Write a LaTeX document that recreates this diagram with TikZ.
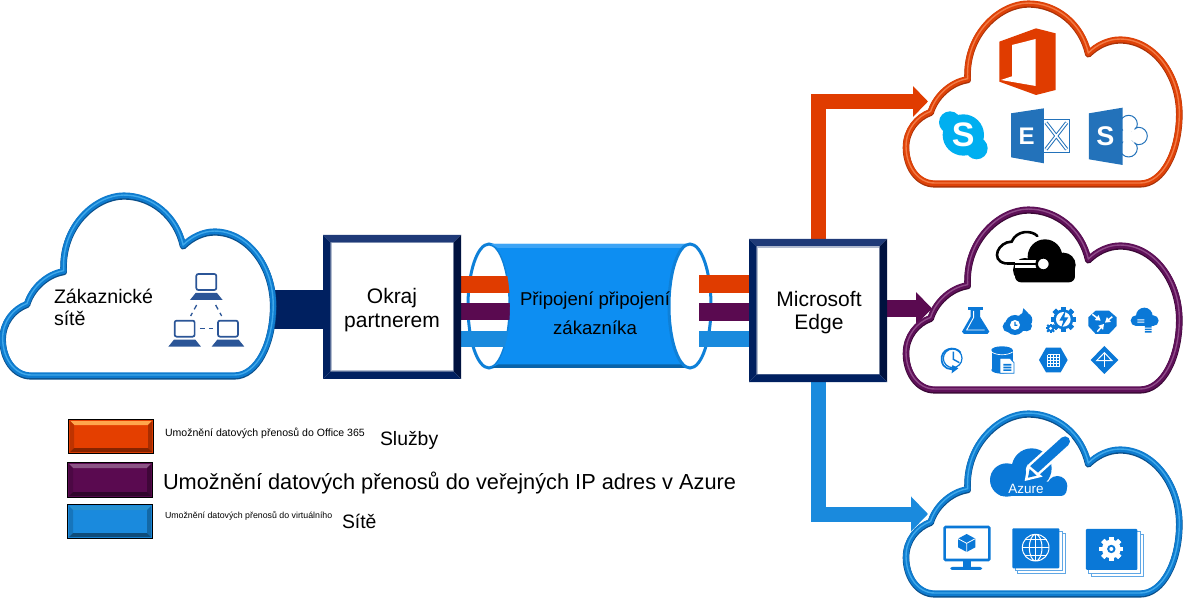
\documentclass[tikz,border=0pt]{standalone}
\usepackage{fontspec}
\setmainfont{Liberation Sans}
\usetikzlibrary{arrows.meta,calc}
\definecolor{navy}{HTML}{002060}
\definecolor{navyL}{HTML}{1F3A78}
\definecolor{navyD}{HTML}{00123F}
\definecolor{orangeC}{HTML}{E03C00}
\definecolor{purpleC}{HTML}{5A0A50}
\definecolor{blueC}{HTML}{1A8ADD}
\definecolor{tube}{HTML}{0D8EF2}
\definecolor{tubeE}{HTML}{0E80D8}
\definecolor{icon}{HTML}{0A78D7}
\definecolor{msblue}{HTML}{2372BA}
\definecolor{skype}{HTML}{00AFF0}
\definecolor{pc}{HTML}{2B5597}
\definecolor{cloudB}{HTML}{0F7CCF}
\definecolor{cloudBd}{HTML}{0A4F8A}
\definecolor{cloudBl}{HTML}{3FA8EA}
\definecolor{cloudO}{HTML}{DE4208}
\definecolor{cloudOd}{HTML}{A83208}
\definecolor{cloudOl}{HTML}{F27A45}
\definecolor{cloudP}{HTML}{5E1058}
\definecolor{cloudPd}{HTML}{3A0835}
\definecolor{cloudPl}{HTML}{8E4A88}
\newcommand\px[1]{\fontsize{#1pt}{#1pt}\selectfont}
\newcommand\cloudpath{(105,550) .. controls (50,550) and (18,495) .. (18,440)
 .. controls (18,390) and (50,350) .. (92,335)
 .. controls (105,290) and (150,245) .. (203,237)
 .. controls (195,100) and (300,10) .. (385,10)
 .. controls (470,10) and (545,70) .. (565,160)
 .. controls (590,135) and (625,118) .. (660,118)
 .. controls (760,118) and (838,220) .. (838,340)
 .. controls (838,450) and (790,550) .. (720,550) -- cycle}
% ox oy base dark light xscale
\newcommand\cloudat[6]{\begin{scope}[shift={(#1,#2)},x=#6*0.3333pt,y=-0.3333pt,line join=round]
 \draw[#4,fill=white,line width=6.6pt,yshift=-1pt] \cloudpath;
 \draw[#3,line width=5.8pt] \cloudpath;
 \draw[#5,line width=1.4pt,yshift=0.3pt] \cloudpath;
\end{scope}}
% x1 y1 x2 y2 t top left right bottom
\newcommand\bevel[9]{%
 \fill[#6] (#1,#2)--(#3,#2)--({#3-#5},{#2+#5})--({#1+#5},{#2+#5})--cycle;
 \fill[#7] (#1,#2)--(#1,#4)--({#1+#5},{#4-#5})--({#1+#5},{#2+#5})--cycle;
 \fill[#8] (#3,#2)--(#3,#4)--({#3-#5},{#4-#5})--({#3-#5},{#2+#5})--cycle;
 \fill[#9] (#1,#4)--(#3,#4)--({#3-#5},{#4-#5})--({#1+#5},{#4-#5})--cycle;}
% computer: screen centre x, screen top y
\newcommand\computer[2]{%
 \draw[pc,line width=1.7pt,rounded corners=2pt] ({#1-30},{#2+2}) rectangle ({#1+30},{#2+50});
 \fill[pc] ({#1-32},{#2+59})--({#1+32},{#2+59})--({#1+49},{#2+80})--({#1-49},{#2+80})--cycle;}
% gear: cx cy R colour hole
\newcommand\gearicon[5]{%
 \fill[#4] (#1,#2) circle (#3);
 \foreach \a in {0,45,...,315}{\fill[#4,rotate around={\a:(#1,#2)}] ({#1-#3*.24},{#2-#3*1.28}) rectangle ({#1+#3*.24},{#2+#3*1.28});}
 \fill[#5] (#1,#2) circle ({#3*.45});}
\tikzset{
 lbl/.style={inner sep=0pt,outer sep=0pt,align=center,text=black},
 boxn/.style={inner sep=0pt,outer sep=0pt,align=center},
 wlogo/.style={inner sep=0pt,text=white,font=\bfseries},
 routeO/.style={orangeC,line width=15pt,-{Triangle[length=15pt,width=30pt]}},
 routeP/.style={purpleC,line width=17pt,-{Triangle[length=16pt,width=32pt]}},
 routeB/.style={blueC,line width=15pt,-{Triangle[length=17pt,width=34pt]}},
}
\begin{document}
\begin{tikzpicture}[x=1pt,y=-1pt]
\useasboundingbox (0,0) rectangle (1183,601);
\fill[white] (0,0) rectangle (1183,601);

\path (392,307) node[boxn,minimum width=138pt,minimum height=144pt] (partnerF) {};
\path (818,310.5) node[boxn,minimum width=138pt,minimum height=143pt] (edgeF) {};
\coordinate (custR) at (270,309.5);
\coordinate (cloudOe) at (928,101.5);
\coordinate (cloudPe) at (932,308.5);
\coordinate (cloudBe) at (928,514);

% connectors to the clouds
\draw[navy,line width=39pt] (custR) -- (custR -| partnerF.west);
\draw[routeO] (edgeF.north -| 818.5,0) |- (cloudOe);
\draw[routeB] (edgeF.south -| 818,0) |- (cloudBe);
\draw[routeP] (edgeF.east |- cloudPe) -- (cloudPe);

% cylinder
\draw[tubeE,line width=3pt,fill=white] (489,306) ellipse [x radius=21pt,y radius=62pt];
\draw[orangeC,line width=17.5pt] (partnerF.east |- 0,284.5) -- (518,284.5);
\draw[purpleC,line width=17.5pt] (partnerF.east |- 0,311.5) -- (518,311.5);
\draw[blueC,line width=16pt] (partnerF.east |- 0,339) -- (518,339);
\fill[tube] (489,244) -- (690,244) .. controls (678.4,244) and (669,271.8) .. (669,306) .. controls (669,340.2) and (678.4,368) .. (690,368) -- (489,368) .. controls (500.6,368) and (510,340.2) .. (510,306) .. controls (510,271.8) and (500.6,244) .. (489,244) -- cycle;
\fill[tube!80!white] (491,244) -- (688,244) -- (684,248) -- (498,248) -- cycle;
\fill[tube!70!black] (498,364.5) -- (684,364.5) -- (690,368) -- (491,368) -- cycle;
\draw[tubeE,line width=3pt,fill=white] (690,306) ellipse [x radius=21pt,y radius=62pt];
\draw[orangeC,line width=18pt] (699,284) -- (edgeF.west |- 0,284);
\draw[purpleC,line width=18pt] (699,312) -- (edgeF.west |- 0,312);
\draw[blueC,line width=16pt] (699,339) -- (edgeF.west |- 0,339);
\node[lbl] (cyl) at (595,313.5) {\px{18.6}Připojení připojení\\[10.5pt]\px{18.6}zákazníka};

% partner and edge boxes
\fill[white] (331,242) rectangle (453,371);
\draw[white!70!navy,line width=1pt] (331.5,242.5) rectangle (453,371);
\bevel{323}{235}{461}{379}{7.5}{navyL}{navy}{navyD}{navy}
\node[lbl] (partner) at (392,310.5) {\px{21}Okraj\\[5pt]\px{21}partnerem};
\fill[white] (757,247) rectangle (879,375);
\draw[white!70!navy,line width=1pt] (757.5,247.5) rectangle (879,375);
\bevel{749}{239}{887}{382}{7.5}{navyL}{navy}{navyD}{navy}
\node[lbl] (edge) at (819,312.5) {\px{21}Microsoft\\[7pt]\px{21}Edge};

% clouds
\cloudat{-3.3}{192}{cloudB}{cloudBd}{cloudBl}{0.99}
\cloudat{900}{0}{cloudO}{cloudOd}{cloudOl}{1}
\cloudat{900}{206}{cloudP}{cloudPd}{cloudPl}{1}
\cloudat{900}{410}{cloudB}{cloudBd}{cloudBl}{1}

% customer cloud contents
\node[lbl,align=left,anchor=north west] (cust) at (54,289.5) {\px{19.6}Zákaznické\\[6pt]\px{19.6}sítě};
\begin{scope}[shift={(0,190)},x=0.3333pt,y=-0.3333pt]
 \computer{619}{250}
 \computer{554}{390}
 \computer{684}{390}
 \coordinate (pa) at (590,345); \coordinate (pb) at (572,378);
 \coordinate (pc1) at (647,345); \coordinate (pd) at (665,378);
 \coordinate (pe) at (600,415); \coordinate (pf) at (640,415);
 \draw[pc,line width=1.3pt,dash pattern=on 5pt off 4pt] (pa) -- (pb);
 \draw[pc,line width=1.3pt,dash pattern=on 5pt off 4pt] (pc1) -- (pd);
 \draw[pc,line width=1.3pt,dash pattern=on 5pt off 4pt] (pe) -- (pf);
\end{scope}

% office cloud icons
\begin{scope}[shift={(900,0)},x=0.3333pt,y=-0.3333pt]
 \fill[orangeC] (298,125)--(408,85)--(467,100)--(467,270)--(408,285)--(298,245)--cycle;
 \fill[white] (336,135)--(407,117)--(407,258)--(303,240)--(336,229)--cycle;
 % skype
 \fill[skype] (190,405) circle (62) (150,367) circle (33) (230,445) circle (33);
 \node[wlogo] (sk) at (190,405) {\px{34}S};
 % exchange
 \draw[msblue,line width=0.9pt,fill=white] (425,358) rectangle (508,458);
 \draw[msblue,line width=3.6pt] (438,368)--(500,448) (438,448)--(500,368);
 \draw[white,line width=1.6pt] (438,368)--(500,448) (438,448)--(500,368);
 \fill[msblue] (333,340)--(432,325)--(432,490)--(333,472)--cycle;
 \node[wlogo] (ex) at (380,410) {\px{24}E};
 % sharepoint
 \draw[msblue,line width=1pt,fill=white] (686,372) circle (26) (716,408) circle (26) (686,445) circle (26);
 \fill[white] (686,375) circle (21) (712,408) circle (21) (686,442) circle (21) (680,408) circle (20);
 \fill[msblue] (567,340)--(668,323)--(668,495)--(567,478)--cycle;
 \node[wlogo] (sp) at (616,410) {\px{27}S};
\end{scope}

% public cloud icons
\begin{scope}[shift={(900,200)},x=0.3333pt,y=-0.3333pt]
 \fill[black] (435,170) circle (52) (490,195) circle (37) (375,210) circle (36);
 \fill[black,rounded corners=6pt] (345,190) rectangle (525,247);
 \draw[black,line width=2.6pt,line cap=round] (412,108) .. controls (395,90) and (350,90) .. (335,125) .. controls (295,125) and (270,180) .. (315,190) -- (440,192);
 \draw[white,line width=7.5pt] (345,192) -- (425,192);
 \draw[black,line width=2.6pt] (320,192) -- (425,192);
 \draw[black,line width=2.6pt,fill=white] (430,192) circle (20);
 % flask
 \fill[icon] (205,320) rectangle (248,330);
 \fill[icon] (212,330)--(240,330)--(240,350)--(268,395)--(262,402)--(192,402)--(186,395)--(212,350)--cycle;
 \draw[white,line width=0.9pt] (221,333)--(221,352)--(200,390)--(254,390);
 % cloud clock
 \fill[icon] (345,375) circle (30) (325,380) circle (17) (375,360) circle (22) (380,378) circle (16);
 \fill[icon] (320,378) rectangle (385,394);
 \fill[white] (345,375) circle (15);
 \fill[icon] (343,366) rectangle (347,378) (343,374) rectangle (352,378);
 \draw[white,line width=1pt] (352,345) -- (370,335);
 \fill[icon] (370,325)--(385,340)--(366,345)--cycle;
 % gear bolt
 \gearicon{490}{358}{30}{icon}{white}
 \fill[white] (490,358) circle (22);
 \fill[icon] (497,330)--(478,362)--(490,362)--(482,388)--(505,352)--(493,352)--cycle;
 \gearicon{452}{385}{11}{icon}{white}
 % octagon
 \fill[icon] (587,332)--(627,332)--(650,352)--(650,378)--(627,402)--(587,402)--(565,378)--(565,352)--cycle;
 \draw[white,line width=1.5pt,-{Triangle[length=5pt,width=6pt]}] (577,343)--(602,362);
 \draw[white,line width=1.5pt,-{Triangle[length=5pt,width=6pt]}] (637,350)--(615,368);
 \draw[white,line width=1.5pt,-{Triangle[length=5pt,width=6pt]}] (592,395)--(612,372);
 % stripe cloud
 \fill[icon] (733,348) circle (25) (708,362) circle (16) (760,362) circle (16);
 \fill[icon] (708,356) rectangle (760,378);
 \fill[icon] (735,378) rectangle (755,383) (735,386) rectangle (755,390) (735,393) rectangle (755,398);
 \fill[white] (712,358) rectangle (733,361) (712,365) rectangle (733,368);
 % clock cycle
 \draw[icon,line width=1.7pt] (182,458) .. controls (165,435) and (120,445) .. (125,482) .. controls (128,505) and (150,512) .. (168,505);
 \fill[icon] (157,495)--(175,505)--(155,520)--cycle;
 \draw[icon,line width=1.2pt] (158,475) circle (28);
 \draw[icon,line width=1.4pt] (160,455)--(160,478)--(178,488);
 % db
 \fill[icon] (275,450) rectangle (338,510);
 \fill[icon] (306,450) ellipse [x radius=32,y radius=11];
 \fill[icon] (306,510) ellipse [x radius=32,y radius=11];
 \draw[white,line width=0.7pt] (275,456) .. controls (290,467) and (322,467) .. (338,456);
 \draw[icon,line width=.8pt,fill=white] (300,475)--(330,475)--(342,488)--(342,520)--(300,520)--cycle;
 \fill[icon] (310,492) rectangle (334,497) (310,500) rectangle (334,505) (310,508) rectangle (334,513);
 % hexagon
 \fill[icon] (417,480)--(438,443)--(482,443)--(503,480)--(482,517)--(438,517)--cycle;
 \foreach \gx in {443,452,461,470,479}{\draw[white,line width=.7pt] (\gx,464) -- (\gx,500);}
 \foreach \gy in {464,473,482,491,500}{\draw[white,line width=.7pt] (443,\gy) -- (479,\gy);}
 % diamond
 \fill[icon] (613,438)--(655,480)--(613,522)--(572,480)--cycle;
 \draw[white,line width=1pt] (613,458)--(590,482)--(636,482)--cycle;
 \draw[white,line width=1pt] (613,458)--(613,500);
\end{scope}

% virtual network cloud icons
\begin{scope}[shift={(900,400)},x=0.3333pt,y=-0.3333pt]
 \fill[icon] (320,240) circle (50) (395,205) circle (60) (472,258) circle (30);
 \fill[icon,rounded corners=6pt] (290,245) rectangle (500,288);
 \draw[white,line width=15pt,line cap=round] (400,210) -- (495,124);
 \draw[icon,line width=10pt,line cap=round] (400,210) -- (495,124);
 \fill[white] (374,243)--(383,193)--(428,230)--cycle;
 \fill[icon] (384,233)--(389,207)--(410,227)--cycle;
 \node[inner sep=0pt,text=white] (azure) at (378,268) {\px{13.5}Azure};
 % monitor
 \draw[icon,line width=2.6pt,rounded corners=1pt] (134,381) rectangle (268,480);
 \fill[icon] (188,482) rectangle (212,502);
 \fill[icon,rounded corners=2pt] (151,501) rectangle (246,510);
 \fill[icon] (200,402)--(226,416)--(226,442)--(200,456)--(174,442)--(174,416)--cycle;
 \draw[white,line width=.8pt,line join=round] (174,416)--(200,430)--(226,416) (200,430)--(200,456);
 % globe stack
 \draw[icon!65!white,line width=.8pt,fill=white] (353,401) rectangle (496,520);
 \draw[icon!65!white,line width=.8pt,fill=white] (345,393) rectangle (488,512);
 \fill[icon,rounded corners=1pt] (337,385) rectangle (478,505);
 \draw[white,line width=1pt] (407,443) circle (40) (407,443) ellipse [x radius=19,y radius=40];
 \draw[white,line width=1pt] (407,403)--(407,483) (367,443)--(447,443) (374,420)--(440,420) (374,466)--(440,466);
 % gear stack
 \draw[icon!65!white,line width=.8pt,fill=white] (574,403) rectangle (730,528);
 \draw[icon!65!white,line width=.8pt,fill=white] (566,395) rectangle (722,520);
 \fill[icon,rounded corners=1pt] (558,387) rectangle (712,510);
 \gearicon{634}{447}{28}{white}{icon}
 \fill[white] (634,447) circle (6);
\end{scope}

% legend
\fill[orange!10!orangeC!95!red] (68,419) rectangle (154,454);
\bevel{70}{421}{152}{452}{4}{orange!70!white}{orangeC!85!black}{orangeC!75!black}{orangeC!60!black}
\draw[black,line width=1pt] (68.5,419.5) rectangle (153.5,453.5);
\fill[purpleC] (67,462) rectangle (153,498);
\bevel{69}{464}{151}{496}{4}{purpleC!70!white}{purpleC!85!black}{purpleC!70!black}{purpleC!55!black}
\draw[black,line width=1pt] (67.5,462.5) rectangle (152.5,497.5);
\fill[blueC] (67,504) rectangle (153,539);
\bevel{69}{506}{151}{537}{4}{cyan!40!blueC}{blueC!85!black}{blueC!75!black}{blueC!55!black}
\draw[black,line width=1pt] (67.5,504.5) rectangle (152.5,538.5);
\node[lbl,anchor=west] (l1) at (165,433.5) {\px{10.55}Umožnění datových přenosů do Office 365};
\node[lbl,anchor=west] (l1b) at (380,440) {\px{19.4}Služby};
\node[lbl,anchor=west] (l2) at (163,482.5) {\px{21.75}Umožnění datových přenosů do veřejných IP adres v Azure};
\node[lbl,anchor=west] (l3) at (165,515.5) {\px{8.8}Umožnění datových přenosů do virtuálního};
\node[lbl,anchor=west] (l3b) at (342,521.5) {\px{19.4}Sítě};
\end{tikzpicture}
\end{document}
